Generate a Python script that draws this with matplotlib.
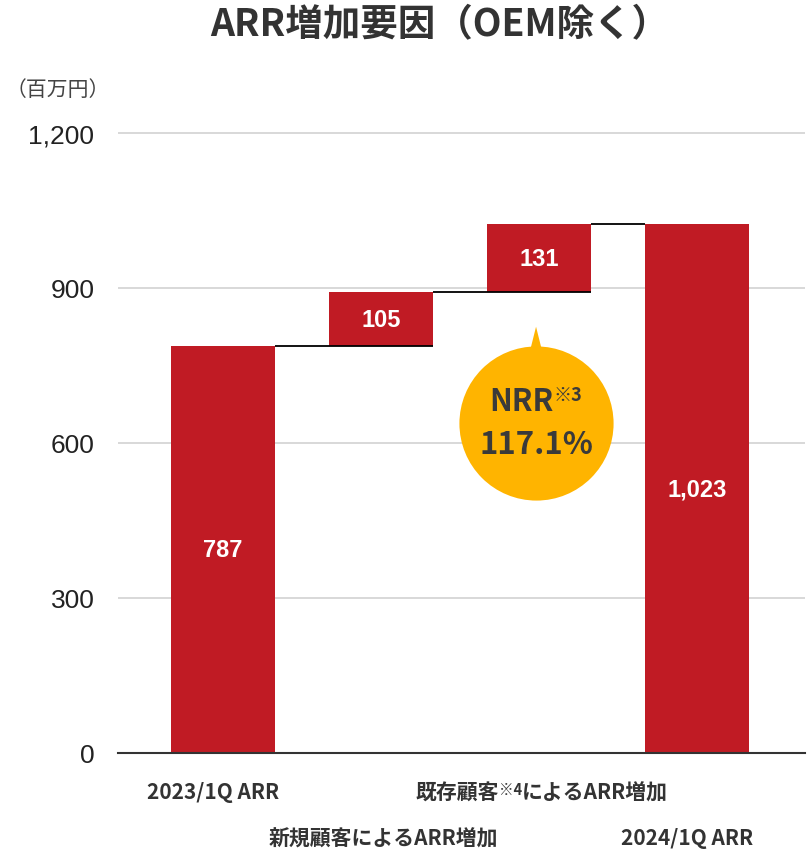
import matplotlib
matplotlib.use("Agg")
import matplotlib.pyplot as plt
from matplotlib.offsetbox import TextArea, HPacker, AnnotationBbox

plt.rcParams['font.family'] = ['Noto Sans CJK JP', 'DejaVu Sans']

# data
categories = ["2023/1Q ARR", "新規顧客によるARR増加", "既存顧客※4によるARR増加", "2024/1Q ARR"]
values = [787, 105, 131, 1023]
bottoms = [0, 787, 892, 0]
bar_labels = ["787", "105", "131", "1,023"]
yticks = [0, 300, 600, 900, 1200]
ytick_labels = ["0", "300", "600", "900", "1,200"]
nrr_label = "117.1%"

red = "#C01B24"
dark = "#333333"

fig = plt.figure(figsize=(8.07, 8.54), dpi=100)
ax = fig.add_axes([118 / 807, 100 / 854, 687 / 807, 625.2 / 854])

x = list(range(len(categories)))
w = 0.66
ax.bar(x, values, bottom=bottoms, width=w, color=red, zorder=2)

# bar value labels
for i in x:
    ax.text(i, bottoms[i] + values[i] / 2, bar_labels[i], ha="center", va="center",
            color="white", fontsize=17, fontweight="bold", family="Liberation Sans", zorder=4)

# connector lines
for i in range(len(x) - 1):
    level = bottoms[i] + values[i]
    x0 = i + w / 2
    x1 = i + 1 + w / 2 if bottoms[i + 1] > 0 else i + 1 - w / 2
    ax.plot([x0, x1], [level, level], color="black", lw=1.3, zorder=3, solid_capstyle="butt")

ax.set_xlim(-0.665, 3.685)
ax.set_ylim(0, 1210)
ax.set_yticks(yticks)
ax.set_yticklabels(ytick_labels, family="Liberation Sans", fontsize=19, color="#222222")
ax.yaxis.grid(True, color="#d6d6d6", lw=1.3, zorder=0)
ax.set_axisbelow(True)
ax.tick_params(axis="y", length=0, pad=17)
ax.tick_params(axis="x", length=0)
for s in ["top", "right", "left"]:
    ax.spines[s].set_visible(False)
ax.spines["bottom"].set_color("#333333")
ax.spines["bottom"].set_linewidth(1.5)

# x labels, staggered in two rows; the ※4 note is set smaller and raised
lab_style = dict(fontsize=15, fontweight="bold", color=dark)
for i, cat in enumerate(categories):
    parts = cat.split("※4")
    if len(parts) == 2:
        kids = [TextArea(parts[0], textprops=lab_style),
                TextArea("※4", textprops=dict(lab_style, fontsize=10.5)),
                TextArea(parts[1], textprops=lab_style)]
    else:
        kids = [TextArea(cat, textprops=lab_style)]
    box = HPacker(children=kids, align="top", pad=0, sep=0)
    dx = -7 if i in (0, 3) else 2
    dy = -28 if i % 2 == 0 else -61
    ax.add_artist(AnnotationBbox(box, (i, 0), xycoords=("data", "axes fraction"),
                                 xybox=(dx, dy), boxcoords="offset points",
                                 frameon=False, box_alignment=(0.5, 0.5),
                                 annotation_clip=False))
ax.set_xticks(x)
ax.set_xticklabels([])

# NRR bubble
bx, by = 1.982, 639
ax.plot([bx], [by], marker="o", markersize=111, color="#FFB400", markeredgewidth=0, zorder=5)
ax.fill([bx - 0.045, bx + 0.045, bx], [770, 770, 825], color="#FFB400", lw=0, zorder=5)
nrr_style = dict(fontsize=22, fontweight="bold", color="#3a3a3a")
nrr_box = HPacker(children=[TextArea("NRR", textprops=nrr_style),
                            TextArea("※3", textprops=dict(nrr_style, fontsize=13))],
                  align="top", pad=0, sep=0)
ab = AnnotationBbox(nrr_box, (bx, 681), frameon=False, box_alignment=(0.5, 0.5))
ab.set_zorder(6)
ax.add_artist(ab)
ax.text(bx, 598, nrr_label, ha="center", va="center", fontsize=22.5, fontweight="bold",
        color="#3a3a3a", zorder=6)

fig.text(440 / 807, 1 - 25 / 854, "ARR増加要因（OEM除く）", ha="center", va="center",
         fontsize=27, fontweight="bold", color=dark)
fig.text(6 / 807, 1 - 90 / 854, "（百万円）", ha="left", va="center", fontsize=15, color="#444444")

fig.savefig("out.png", dpi=100)
